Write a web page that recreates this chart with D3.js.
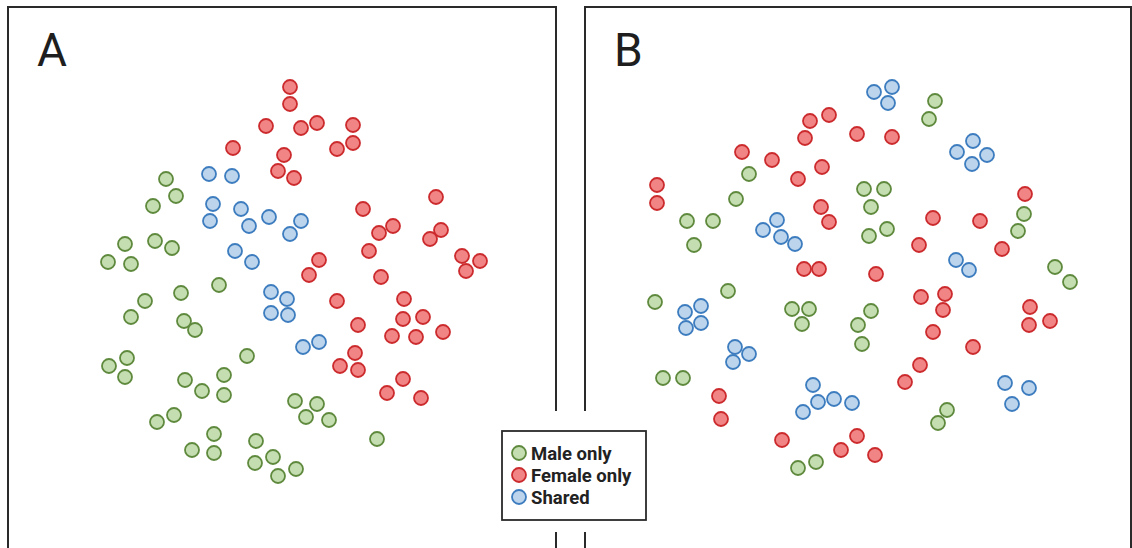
<!DOCTYPE html>
<html><head><meta charset="utf-8">
<script src="https://cdn.jsdelivr.net/npm/d3@7"></script>
<style>body{margin:0;background:#fff}svg{display:block}</style>
</head><body>
<svg id="c" width="1132" height="548"></svg>
<script>
// Panel-relative embedding coordinates (units ≈ px within each panel)
const seriesNames = ["Male only", "Female only", "Shared"];
const panelLabels = ["A", "B"];

// Panel A
const aMaleX   = [158,168,145,117,147,164,100,123,211,173,137,123,176,187,239,119,101,117,177,216,194,216,166,149,206,184,206,248,265,247,270,288,287,309,298,321,369];
const aMaleY   = [179,196,206,244,241,248,262,264,285,293,301,317,321,330,356,358,366,377,380,375,391,395,415,422,434,450,453,441,457,463,476,469,401,404,417,420,439];
const aFemaleX = [282,282,258,293,309,345,345,329,225,276,270,286,355,428,385,371,361,433,422,454,472,458,311,301,373,329,396,395,415,350,384,408,435,347,332,350,395,379,413];
const aFemaleY = [87,104,126,128,123,125,143,149,148,155,171,178,209,197,226,233,251,230,239,256,261,271,260,275,277,301,299,319,317,325,336,337,332,353,366,370,379,393,398];
const aSharedX = [201,224,205,233,202,241,261,293,282,227,244,263,279,263,280,295,311];
const aSharedY = [174,176,204,209,221,226,217,221,234,251,262,292,299,313,315,347,342];

// Panel B
const bMaleX   = [164,151,102,128,109,143,70,350,344,279,299,286,284,302,439,433,470,485,207,224,217,286,273,277,78,98,213,231,362,353];
const bMaleY   = [174,199,221,221,245,291,302,101,119,189,189,207,236,229,214,231,267,282,309,309,324,311,325,344,378,378,468,462,410,423];
const bFemaleX = [72,72,157,187,220,225,244,272,307,237,213,236,244,219,234,440,348,395,334,417,291,336,360,358,348,388,335,320,445,465,444,134,136,197,272,256,290];
const bFemaleY = [185,203,152,160,138,121,115,134,137,167,179,207,222,269,269,194,218,221,245,249,274,297,294,310,332,347,365,382,307,321,325,396,419,440,436,450,455];
const bSharedX = [289,307,303,388,372,402,387,192,178,196,210,371,384,100,116,101,116,150,164,148,228,233,249,267,218,420,444,427];
const bSharedY = [92,87,103,141,152,155,164,220,230,237,244,260,270,312,306,328,323,347,354,362,385,402,399,403,412,383,388,404];

const fills   = ["#c5deb1", "#f18585", "#bcd4ec"];
const strokes = ["#5f8a3e", "#cc2b2e", "#3d7dbf"];

const svg = d3.select("#c");
const panels = [
  {left: 8,   width: 548, label: panelLabels[0], series: [[aMaleX,aMaleY],[aFemaleX,aFemaleY],[aSharedX,aSharedY]]},
  {left: 585, width: 546, label: panelLabels[1], series: [[bMaleX,bMaleY],[bFemaleX,bFemaleY],[bSharedX,bSharedY]]}
];
const y = d3.scaleLinear().domain([0, 548]).range([0, 548]);

panels.forEach(p => {
  const x = d3.scaleLinear().domain([0, 548]).range([p.left, p.left + 548]);
  const g = svg.append("g");
  g.append("rect").attr("x", p.left).attr("y", 7).attr("width", p.width).attr("height", 600)
    .attr("fill", "none").attr("stroke", "#2a2a2a").attr("stroke-width", 2);
  g.append("text").attr("x", p.left + 29).attr("y", 66).text(p.label)
    .attr("font-family", "Roboto, 'Open Sans', sans-serif").attr("font-size", 46)
    .attr("fill", "#1e1e1e");
  p.series.forEach((s, i) => {
    const pts = s[0].map((v, j) => [v, s[1][j]]);
    g.append("g").selectAll("circle").data(pts).join("circle")
      .attr("cx", d => x(d[0])).attr("cy", d => y(d[1])).attr("r", 7)
      .attr("fill", fills[i]).attr("stroke", strokes[i]).attr("stroke-width", 1.8);
  });
});

// legend with white knock-out over panel borders
svg.append("rect").attr("x", 495).attr("y", 411).attr("width", 160).attr("height", 121).attr("fill", "#fff");
const lg = svg.append("g");
lg.append("rect").attr("x", 502).attr("y", 431).attr("width", 144).attr("height", 89)
  .attr("fill", "#fff").attr("stroke", "#2a2a2a").attr("stroke-width", 1.8);
seriesNames.forEach((n, i) => {
  const cy = 453 + i * 22;
  lg.append("circle").attr("cx", 519).attr("cy", cy).attr("r", 7)
    .attr("fill", fills[i]).attr("stroke", strokes[i]).attr("stroke-width", 1.8);
  lg.append("text").attr("x", 531).attr("y", cy + 6.5).text(n)
    .attr("font-family", "Roboto, sans-serif").attr("font-weight", "bold").attr("font-size", 18.5)
    .attr("fill", "#222");
});
</script>
</body></html>
